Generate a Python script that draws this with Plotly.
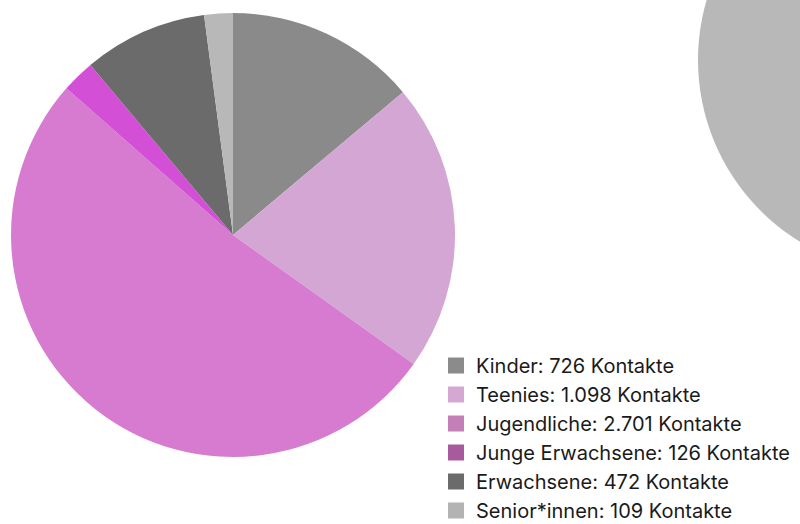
import plotly.graph_objects as go

categories = ["Kinder", "Teenies", "Jugendliche", "Junge Erwachsene", "Erwachsene", "Senior*innen"]
values = [726, 1098, 2701, 126, 472, 109]
value_labels = ["726", "1.098", "2.701", "126", "472", "109"]
pie_colors = ["#8a8a8a", "#d4a6d4", "#d67bd0", "#d24fd6", "#6b6b6b", "#b8b8b8"]
legend_colors = ["#8b8b8b", "#d4a8d0", "#c47fb9", "#a85a9f", "#6b6b6b", "#b3b3b3"]

W, H = 800, 524
fig = go.Figure()

fig.add_trace(go.Pie(
    labels=categories, values=values, sort=False, direction="clockwise", rotation=0,
    marker=dict(colors=pie_colors, line=dict(width=0)),
    textinfo="none", hoverinfo="label+value", showlegend=False,
    domain=dict(x=[11 / W, 455 / W], y=[1 - 457 / H, 1 - 13 / H]),
))

for i, (c, v, col) in enumerate(zip(categories, value_labels, legend_colors)):
    fig.add_trace(go.Scatter(
        x=[None], y=[None], mode="markers", name=f"{c}: {v} Kontakte",
        legendgroup=f"g{i}",
        marker=dict(symbol="square", size=18, color=col, line=dict(width=0)),
    ))

fig.add_shape(type="circle", xref="paper", yref="paper",
              x0=(911 - 213) / W, x1=(911 + 213) / W,
              y0=1 - (60 + 213) / H, y1=1 - (60 - 213) / H,
              fillcolor="#b8b8b8", line=dict(width=0), layer="below")

fig.update_layout(
    width=W, height=H, margin=dict(l=0, r=0, t=0, b=0, autoexpand=False),
    paper_bgcolor="white", plot_bgcolor="white",
    xaxis=dict(visible=False), yaxis=dict(visible=False),
    legend=dict(x=436 / W, y=1 - 346 / H, xanchor="left", yanchor="top",
                font=dict(family="Inter", size=20, color="#1a1a1a"),
                tracegroupgap=0, itemsizing="trace", bgcolor="rgba(0,0,0,0)"),
    showlegend=True,
)

fig.write_html("out.html")
